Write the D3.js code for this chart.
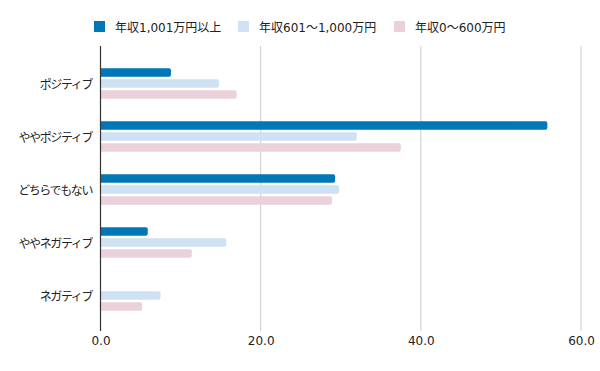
<!DOCTYPE html>
<html><head><meta charset="utf-8">
<script src="https://cdn.jsdelivr.net/npm/d3@7/dist/d3.min.js"></script>
<style>
body{margin:0;background:#fff;}
text{font-family:"DejaVu Sans","Noto Sans CJK JP",sans-serif;font-size:12px;fill:#222;}
</style></head>
<body><svg id="c" width="600" height="371"></svg>
<script>
const categories = ["ポジティブ","ややポジティブ","どちらでもない","ややネガティブ","ネガティブ"];
const seriesNames = ["年収1,001万円以上","年収601～1,000万円","年収0～600万円"];
const seriesColors = ["#0077b6","#cfe2f3","#ead1dc"];
const high = [8.8, 55.8, 29.3, 5.9, 0];
const mid = [14.8, 32.0, 29.8, 15.7, 7.5];
const low = [17.0, 37.5, 28.9, 11.4, 5.2];
const xTicks = [0, 20, 40, 60];

const values = [high, mid, low];
const svg = d3.select("#c");
const x = d3.scaleLinear().domain([0,60]).range([100.5,581]);
const y0 = d3.scaleBand().domain(categories).range([57,322]).paddingInner(0.377).paddingOuter(0.1885);
const y1 = d3.scaleBand().domain(seriesNames).range([0,y0.bandwidth()]).paddingInner(0.23).paddingOuter(0.115);

const plotTop = 46, plotBottom = 331;
// gridlines
svg.append("g").selectAll("line").data(xTicks.filter(d=>d>0)).join("line")
  .attr("x1",d=>x(d)).attr("x2",d=>x(d)).attr("y1",plotTop).attr("y2",plotBottom)
  .attr("stroke","#cccccc").attr("stroke-width",1);

// bars
function barPath(x0,x1,yy,h,r){
  const w = x1-x0; if(w<=0) return "";
  r = Math.min(r,w,h/2);
  return `M${x0},${yy}H${x1-r}Q${x1},${yy} ${x1},${yy+r}V${yy+h-r}Q${x1},${yy+h} ${x1-r},${yy+h}H${x0}Z`;
}
const g = svg.append("g");
categories.forEach((c,ci)=>{
  seriesNames.forEach((s,si)=>{
    const v = values[si][ci];
    if(v<=0) return;
    g.append("path")
      .attr("d", barPath(x(0), x(v), y0(c)+y1(s), y1.bandwidth(), 2))
      .attr("fill", seriesColors[si]);
  });
});

// axis line at zero
svg.append("line").attr("x1",x(0)).attr("x2",x(0)).attr("y1",plotTop).attr("y2",plotBottom)
  .attr("stroke","#333").attr("stroke-width",1.2);

// x tick labels
const xa = d3.axisBottom(x).tickValues(xTicks).tickFormat(d3.format(".1f")).tickSize(0).tickPadding(0);
const xg = svg.append("g").attr("transform",`translate(0,${plotBottom})`).call(xa);
xg.select(".domain").remove();
xg.selectAll("text").attr("y",14).attr("dy","0").style("font-size","12px").style("fill","#222")
  .attr("font-family","DejaVu Sans");

// y labels
const ya = d3.axisLeft(y0).tickSize(0).tickPadding(0);
const yg = svg.append("g").attr("transform",`translate(92,0)`).call(ya);
yg.select(".domain").remove();
yg.selectAll("text").attr("x",0).attr("dy","0.42em").style("font-size","12px").style("fill","#222")
  .style("letter-spacing","-1.4px");

// legend
const legX = [94, 238, 394];
const lg = svg.append("g");
seriesNames.forEach((s,i)=>{
  lg.append("rect").attr("x",legX[i]).attr("y",21).attr("width",11).attr("height",11).attr("fill",seriesColors[i]);
  lg.append("text").attr("x",legX[i]+21).attr("y",27).attr("dy","0.42em").text(s);
});
</script></body></html>
